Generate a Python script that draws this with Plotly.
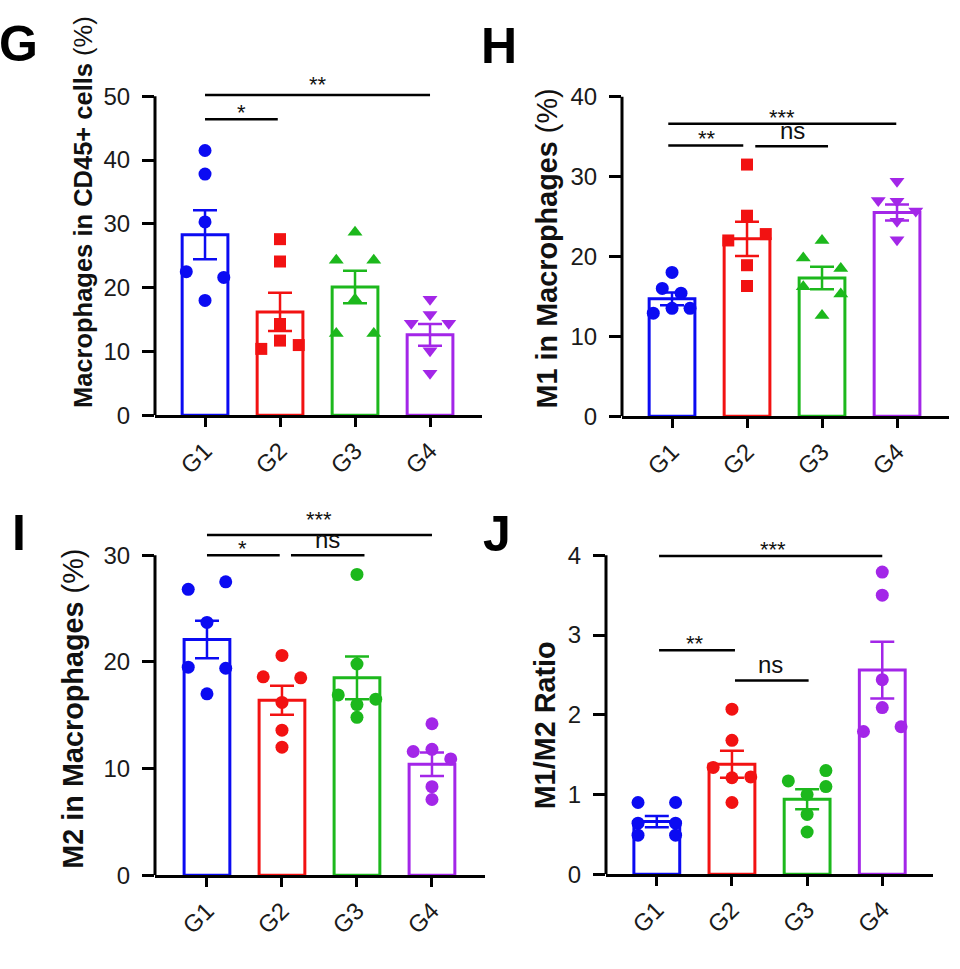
import plotly.graph_objects as go

W, H = 960, 969
groups = ["G1", "G2", "G3", "G4"]
colors = ["#0b0bf2", "#f21212", "#1cb81c", "#a326e8"]
FONT = "Liberation Sans, Arial, sans-serif"

# ---------------- data ----------------
# Panel G: Macrophages in CD45+ cells (%)
g_points = [[41.5, 37.8, 30.3, 22.5, 21.6, 18.0],
            [27.6, 24.1, 14.3, 11.7, 10.4, 11.0],
            [28.7, 24.3, 24.3, 18.2, 12.8, 12.8],
            [18.2, 15.8, 14.4, 14.4, 10.1, 6.6]]
g_jitter = [[0, 0, 0, -0.25, 0.25, 0],
            [0, 0, 0, 0, -0.25, 0.25],
            [0, -0.25, 0.25, 0, -0.25, 0.25],
            [0, 0, -0.25, 0.25, 0, 0]]
g_mean = [28.3, 16.2, 20.1, 12.6]
g_sem = [3.85, 3.0, 2.55, 1.7]
g_yticks = [0, 10, 20, 30, 40, 50]
# (x start, x end, bracket height, label, label x, extra label lift in px)
g_sig = [(0.0, 0.97, 46.4, "*", 0.49, 0), (0.0, 3.0, 50.2, "**", 1.5, 4)]

# Panel H: M1 in Macrophages (%)
h_points = [[18.0, 16.0, 15.4, 13.5, 12.9, 13.5],
            [31.5, 25.1, 22.0, 22.8, 18.9, 16.3],
            [22.0, 19.8, 18.5, 16.2, 15.3, 12.6],
            [29.4, 27.0, 26.9, 25.7, 24.4, 22.1]]
h_jitter = [[0, -0.13, 0.12, 0, -0.25, 0.24],
            [0, 0, -0.25, 0.25, 0, 0],
            [0, -0.25, 0.25, -0.25, 0.25, 0],
            [0, -0.25, 0, 0.25, 0, 0]]
h_mean = [14.7, 22.2, 17.3, 25.5]
h_sem = [0.8, 2.15, 1.4, 1.0]
h_yticks = [0, 10, 20, 30, 40]
h_sig = [(-0.05, 0.95, 33.9, "**", 0.46, 0), (1.11, 2.08, 33.8, "ns", 1.6, 0),
         (-0.05, 2.99, 36.6, "***", 1.46, 0)]

# Panel I: M2 in Macrophages (%)
i_points = [[26.8, 27.5, 23.7, 19.5, 19.4, 17.0],
            [20.6, 18.6, 18.5, 16.2, 13.6, 12.0],
            [28.2, 19.8, 16.9, 16.5, 16.0, 14.8],
            [14.2, 11.8, 11.6, 10.9, 8.3, 7.1]]
i_jitter = [[-0.25, 0.25, 0, -0.25, 0.25, 0],
            [0, -0.25, 0.25, 0, 0, 0],
            [0, 0, -0.25, 0.25, 0, 0],
            [0, 0, -0.25, 0.25, 0, 0]]
i_mean = [22.1, 16.4, 18.5, 10.4]
i_sem = [1.75, 1.35, 2.0, 1.1]
i_yticks = [0, 10, 20, 30]
i_sig = [(0.0, 0.97, 30.0, "*", 0.48, 0), (1.12, 2.1, 30.0, "ns", 1.61, 0),
         (0.0, 3.0, 31.9, "***", 1.5, 9)]

# Panel J: M1/M2 Ratio
j_points = [[0.90, 0.90, 0.64, 0.64, 0.49, 0.49],
            [2.07, 1.68, 1.34, 1.22, 1.21, 0.90],
            [1.30, 1.17, 1.10, 1.00, 0.75, 0.53],
            [3.79, 3.50, 2.44, 2.09, 1.79, 1.85]]
j_jitter = [[-0.25, 0.25, -0.25, 0.25, -0.25, 0.25],
            [0, 0, -0.25, 0.25, 0, 0],
            [0.25, -0.25, 0.25, 0, 0, 0],
            [0, 0, 0, 0, -0.25, 0.25]]
j_mean = [0.66, 1.38, 0.94, 2.56]
j_sem = [0.07, 0.17, 0.125, 0.355]
j_yticks = [0, 1, 2, 3, 4]
j_sig = [(0.03, 1.04, 2.81, "**", 0.51, 0), (1.04, 2.02, 2.43, "ns", 1.51, 0),
         (0.03, 3.0, 3.99, "***", 1.55, 0)]

shapes_sym = ["circle", "square", "triangle-up", "triangle-down"]
circles = ["circle"] * 4

# ---------------- layout geometry (pixels) ----------------
panels = [
    dict(letter="G", pts=g_points, jit=g_jitter, mean=g_mean, sem=g_sem, sym=shapes_sym,
         yticks=g_yticks, ytop=50, yext=53, left=155, right=482, y0px=418, pxu=6.5,
         xr=(-0.667, 3.693), title="<b>Macrophages in CD45+ cells</b> (%)", tsize=25.5,
         txy=(83, 211), lxy=(18, 40), sig=g_sig),
    dict(letter="H", pts=h_points, jit=h_jitter, mean=h_mean, sem=h_sem, sym=shapes_sym,
         yticks=h_yticks, ytop=40, yext=41, left=622, right=949, y0px=419, pxu=8.14,
         xr=(-0.667, 3.693), title="<b>M1 in Macrophages</b> (%)", tsize=28.8,
         txy=(547, 248), lxy=(499, 42), sig=h_sig),
    dict(letter="I", pts=i_points, jit=i_jitter, mean=i_mean, sem=i_sem, sym=circles,
         yticks=i_yticks, ytop=30, yext=33, left=155, right=485, y0px=886.7, pxu=10.87,
         xr=(-0.693, 3.707), title="<b>M2 in Macrophages</b> (%)", tsize=28.8,
         txy=(73, 717), lxy=(19, 538), sig=i_sig),
    dict(letter="J", pts=j_points, jit=j_jitter, mean=j_mean, sem=j_sem, sym=circles,
         yticks=j_yticks, ytop=4, yext=4.15, left=606, right=933, y0px=885.7, pxu=81.25,
         xr=(-0.676, 3.675), title="<b>M1/M2 Ratio</b>", tsize=28.8,
         txy=(545, 734), lxy=(497, 539), sig=j_sig),
]

fig = go.Figure()
layout = dict(width=W, height=H, margin=dict(l=0, r=0, t=0, b=0),
              plot_bgcolor="white", paper_bgcolor="white", barmode="overlay",
              showlegend=False, font=dict(family=FONT, color="#111"))
shapes = []
annotations = []

for k, p in enumerate(panels):
    sfx = "" if k == 0 else str(k + 1)
    xa, ya = "x" + sfx, "y" + sfx
    top_px = p["y0px"] - p["pxu"] * p["yext"]
    layout["xaxis" + sfx] = dict(
        domain=[p["left"] / W, p["right"] / W], range=list(p["xr"]), anchor=ya,
        tickvals=[0, 1, 2, 3], ticktext=groups, tickangle=-45,
        showline=True, linewidth=3, linecolor="black", ticks="outside",
        ticklen=9, tickwidth=3, tickcolor="black", showgrid=False, zeroline=False,
        tickfont=dict(size=24, color="#1a1a1a", family=FONT), fixedrange=True)
    layout["yaxis" + sfx] = dict(
        domain=[1 - p["y0px"] / H, 1 - top_px / H], range=[0, p["yext"]], anchor=xa,
        tickvals=p["yticks"], showline=False, ticks="outside", ticklen=12,
        tickwidth=3, tickcolor="black", showgrid=False, zeroline=False,
        ticklabelstandoff=7,
        tickfont=dict(size=24, color="#1a1a1a", family=FONT), fixedrange=True)
    # y axis line up to top tick
    shapes.append(dict(type="line", xref=xa + " domain", yref=ya, x0=0, x1=0,
                       y0=0, y1=p["ytop"], line=dict(color="black", width=3)))
    for j in range(4):
        fig.add_trace(go.Bar(
            x=[j], y=[p["mean"][j]], width=0.61, xaxis=xa, yaxis=ya,
            marker=dict(color="rgba(255,255,255,0)", line=dict(color=colors[j], width=3)),
            error_y=dict(type="data", array=[p["sem"][j]], color=colors[j],
                         thickness=2.5, width=12)))
        size = 13 if p["sym"][j] == "circle" else (12 if p["sym"][j] == "square" else 13)
        fig.add_trace(go.Scatter(
            x=[j + o for o in p["jit"][j]], y=p["pts"][j], mode="markers",
            xaxis=xa, yaxis=ya, cliponaxis=False,
            marker=dict(symbol=p["sym"][j], size=size, color=colors[j],
                        line=dict(width=0))))
    for (x0, x1, yv, lab, lx, lift) in p["sig"]:
        shapes.append(dict(type="line", xref=xa, yref=ya, x0=x0, x1=x1, y0=yv, y1=yv,
                           line=dict(color="black", width=2.5)))
        star = lab != "ns"
        annotations.append(dict(x=lx, y=yv, xref=xa, yref=ya, text=lab, showarrow=False,
                                yanchor="bottom", yshift=(-8 if star else 0) + lift,
                                font=dict(size=22 if star else 24, color="#111",
                                          family=FONT)))
    annotations.append(dict(x=p["txy"][0] / W, y=1 - p["txy"][1] / H, xref="paper",
                            yref="paper", text=p["title"], textangle=-90, showarrow=False,
                            xanchor="center", yanchor="middle",
                            font=dict(size=p["tsize"], color="#111", family=FONT)))
    annotations.append(dict(x=p["lxy"][0] / W, y=1 - p["lxy"][1] / H, xref="paper",
                            yref="paper", text="<b>" + p["letter"] + "</b>",
                            showarrow=False, xanchor="center", yanchor="middle",
                            font=dict(size=50, color="black", family=FONT)))

layout["shapes"] = shapes
layout["annotations"] = annotations
fig.update_layout(**layout)
fig.write_html("out.html", config={"displayModeBar": False},
               post_script="document.body.style.margin='0px';")
